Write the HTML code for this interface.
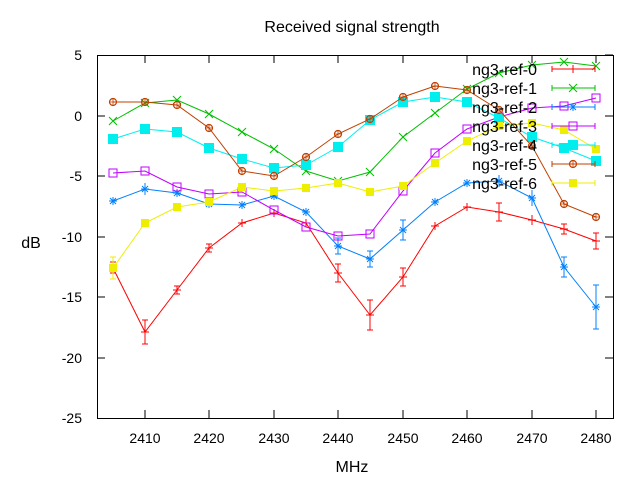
<!DOCTYPE html>
<html><head><style>body{margin:0;background:#fff}svg{display:block}text{font-family:"Liberation Sans",sans-serif;font-size:14px;fill:#000}.b{font-size:16px}</style></head><body>
<svg width="640" height="480" viewBox="0 0 640 480">
<defs>
<g id="mplus"><path d="M-4,0H4M0,-4V4" stroke-width="1"/></g>
<g id="mx"><path d="M-4,-4L4,4M-4,4L4,-4" stroke-width="1"/></g>
<g id="mstar"><path d="M-4,0H4M0,-4V4M-3,-3L3,3M-3,3L3,-3" stroke-width="1"/></g>
<g id="mosq"><rect x="-4" y="-4" width="8" height="8" fill="none" stroke-width="1"/></g>
<g id="mfsq"><rect x="-5" y="-5" width="10" height="10" stroke="none"/></g>
<g id="mcirc"><circle r="3.5" fill="none" stroke-width="1.2"/><path d="M-3.5,0H3.5M0,-3.5V3.5" stroke-width="0.8"/></g>
<g id="mfc"><rect x="-4" y="-4" width="8" height="8" stroke="none"/></g>
</defs>
<text class="b" x="352" y="32" text-anchor="middle">Received signal strength</text>
<text class="b" x="352" y="472" text-anchor="middle">MHz</text>
<text class="b" x="31" y="248" text-anchor="middle">dB</text>
<g text-anchor="end">
<text x="82" y="60">5</text><text x="82" y="121">0</text><text x="82" y="181">-5</text><text x="82" y="242">-10</text><text x="82" y="302">-15</text><text x="82" y="363">-20</text><text x="82" y="423">-25</text>
</g>
<g text-anchor="middle">
<text x="145" y="443">2410</text><text x="209" y="443">2420</text><text x="274" y="443">2430</text><text x="338" y="443">2440</text><text x="403" y="443">2450</text><text x="467" y="443">2460</text><text x="532" y="443">2470</text><text x="596" y="443">2480</text>
</g>
<g stroke="#000" stroke-width="1" fill="none">
<rect x="97.5" y="55.5" width="516" height="363"/>
<path d="M97,116h8M97,176h8M97,237h8M97,297h8M97,358h8M613,55h-8M613,116h-8M613,176h-8M613,237h-8M613,297h-8M613,358h-8"/>
<path d="M145,418v-8M209,418v-8M274,418v-8M338,418v-8M403,418v-8M467,418v-8M532,418v-8M596,418v-8M145,55v8M209,55v8M274,55v8M338,55v8M403,55v8M467,55v8M532,55v8M596,55v8"/>
</g>
<g stroke="#ff0000" fill="#ff0000">
<polyline fill="none" points="113,268 145,332 177,290 209,248 242,223 274,213 306,223 338,273 370,315 403,277 435,226 467,207 499,212 532,220 564,229 596,241"/>
<path d="M113,262v11M110,262h6M110,273h6M145,320v24M142,320h6M142,344h6M177,286v8M174,286h6M174,294h6M209,244v8M206,244h6M206,252h6M242,219v8M274,209v8M306,219v8M338,264v18M335,264h6M335,282h6M370,300v30M367,300h6M367,330h6M403,268v18M400,268h6M400,286h6M435,222v8M467,203v8M499,203v18M496,203h6M496,221h6M532,215v10M564,224v10M561,224h6M561,234h6M596,233v16M593,233h6M593,249h6" fill="none"/>
<use href="#mplus" x="113" y="268"/><use href="#mplus" x="145" y="332"/><use href="#mplus" x="177" y="290"/><use href="#mplus" x="209" y="248"/><use href="#mplus" x="242" y="223"/><use href="#mplus" x="274" y="213"/><use href="#mplus" x="306" y="223"/><use href="#mplus" x="338" y="273"/><use href="#mplus" x="370" y="315"/><use href="#mplus" x="403" y="277"/><use href="#mplus" x="435" y="226"/><use href="#mplus" x="467" y="207"/><use href="#mplus" x="499" y="212"/><use href="#mplus" x="532" y="220"/><use href="#mplus" x="564" y="229"/><use href="#mplus" x="596" y="241"/>
</g>
<g stroke="#00c000" fill="#00c000">
<polyline fill="none" points="113,121 145,103 177,100 209,114 242,132 274,149 306,171 338,181 370,172 403,137 435,113 467,89 499,73 532,65 564,62 596,66"/>
<use href="#mx" x="113" y="121"/><use href="#mx" x="145" y="103"/><use href="#mx" x="177" y="100"/><use href="#mx" x="209" y="114"/><use href="#mx" x="242" y="132"/><use href="#mx" x="274" y="149"/><use href="#mx" x="306" y="171"/><use href="#mx" x="338" y="181"/><use href="#mx" x="370" y="172"/><use href="#mx" x="403" y="137"/><use href="#mx" x="435" y="113"/><use href="#mx" x="467" y="89"/><use href="#mx" x="499" y="73"/><use href="#mx" x="532" y="65"/><use href="#mx" x="564" y="62"/><use href="#mx" x="596" y="66"/>
</g>
<g stroke="#0080ff" fill="#0080ff">
<polyline fill="none" points="113,201 145,189 177,193 209,204 242,205 274,196 306,212 338,246 370,259 403,230 435,202 467,183 499,181 532,198 564,267 596,307"/>
<path d="M145,183v12M338,238v16M335,238h6M335,254h6M370,251v16M367,251h6M367,267h6M403,220v20M400,220h6M400,240h6M564,257v20M561,257h6M561,277h6M596,285v44M593,285h6M593,329h6M532,190v16M499,175v12" fill="none"/>
<use href="#mstar" x="113" y="201"/><use href="#mstar" x="145" y="189"/><use href="#mstar" x="177" y="193"/><use href="#mstar" x="209" y="204"/><use href="#mstar" x="242" y="205"/><use href="#mstar" x="274" y="196"/><use href="#mstar" x="306" y="212"/><use href="#mstar" x="338" y="246"/><use href="#mstar" x="370" y="259"/><use href="#mstar" x="403" y="230"/><use href="#mstar" x="435" y="202"/><use href="#mstar" x="467" y="183"/><use href="#mstar" x="499" y="181"/><use href="#mstar" x="532" y="198"/><use href="#mstar" x="564" y="267"/><use href="#mstar" x="596" y="307"/>
</g>
<g stroke="#c000ff" fill="#c000ff">
<polyline fill="none" points="113,173 145,171 177,187 209,194 242,192 274,210 306,227 338,236 370,234 403,191 435,153 467,129 499,117 532,108 564,106 596,98"/>
<use href="#mosq" x="113" y="173"/><use href="#mosq" x="145" y="171"/><use href="#mosq" x="177" y="187"/><use href="#mosq" x="209" y="194"/><use href="#mosq" x="242" y="192"/><use href="#mosq" x="274" y="210"/><use href="#mosq" x="306" y="227"/><use href="#mosq" x="338" y="236"/><use href="#mosq" x="370" y="234"/><use href="#mosq" x="403" y="191"/><use href="#mosq" x="435" y="153"/><use href="#mosq" x="467" y="129"/><use href="#mosq" x="499" y="117"/><use href="#mosq" x="532" y="108"/><use href="#mosq" x="564" y="106"/><use href="#mosq" x="596" y="98"/>
</g>
<g stroke="#00eeee" fill="#00eeee">
<polyline fill="none" points="113,139 145,129 177,132 209,148 242,159 274,168 306,165 338,147 370,120 403,102 435,97 467,102 499,118 532,137 564,148 596,161"/>
<use href="#mfsq" x="113" y="139"/><use href="#mfsq" x="145" y="129"/><use href="#mfsq" x="177" y="132"/><use href="#mfsq" x="209" y="148"/><use href="#mfsq" x="242" y="159"/><use href="#mfsq" x="274" y="168"/><use href="#mfsq" x="306" y="165"/><use href="#mfsq" x="338" y="147"/><use href="#mfsq" x="370" y="120"/><use href="#mfsq" x="403" y="102"/><use href="#mfsq" x="435" y="97"/><use href="#mfsq" x="467" y="102"/><use href="#mfsq" x="499" y="118"/><use href="#mfsq" x="532" y="137"/><use href="#mfsq" x="564" y="148"/><use href="#mfsq" x="596" y="161"/>
</g>
<g stroke="#c04000" fill="#c04000">
<polyline fill="none" points="113,102 145,102 177,105 209,128 242,171 274,176 306,157 338,134 370,119 403,97 435,86 467,90 499,110 532,146 564,204 596,217"/>
<use href="#mcirc" x="113" y="102"/><use href="#mcirc" x="145" y="102"/><use href="#mcirc" x="177" y="105"/><use href="#mcirc" x="209" y="128"/><use href="#mcirc" x="242" y="171"/><use href="#mcirc" x="274" y="176"/><use href="#mcirc" x="306" y="157"/><use href="#mcirc" x="338" y="134"/><use href="#mcirc" x="370" y="119"/><use href="#mcirc" x="403" y="97"/><use href="#mcirc" x="435" y="86"/><use href="#mcirc" x="467" y="90"/><use href="#mcirc" x="499" y="110"/><use href="#mcirc" x="532" y="146"/><use href="#mcirc" x="564" y="204"/><use href="#mcirc" x="596" y="217"/>
</g>
<g stroke="#eeee00" fill="#eeee00">
<polyline fill="none" points="113,268 145,223 177,207 209,202 242,187 274,191 306,188 338,183 370,192 403,186 435,163 467,141 499,126 532,123 564,130 596,149"/>
<path d="M113,257v22M110,257h6M110,279h6" fill="none"/>
<use href="#mfc" x="113" y="268"/><use href="#mfc" x="145" y="223"/><use href="#mfc" x="177" y="207"/><use href="#mfc" x="209" y="202"/><use href="#mfc" x="242" y="187"/><use href="#mfc" x="274" y="191"/><use href="#mfc" x="306" y="188"/><use href="#mfc" x="338" y="183"/><use href="#mfc" x="370" y="192"/><use href="#mfc" x="403" y="186"/><use href="#mfc" x="435" y="163"/><use href="#mfc" x="467" y="141"/><use href="#mfc" x="499" y="126"/><use href="#mfc" x="532" y="123"/><use href="#mfc" x="564" y="130"/><use href="#mfc" x="596" y="149"/>
</g>
<g text-anchor="end" class="b">
<text class="b" x="537" y="75">ng3-ref-0</text><text class="b" x="537" y="94">ng3-ref-1</text><text class="b" x="537" y="113">ng3-ref-2</text><text class="b" x="537" y="132">ng3-ref-3</text><text class="b" x="537" y="151">ng3-ref-4</text><text class="b" x="537" y="170">ng3-ref-5</text><text class="b" x="537" y="189">ng3-ref-6</text>
</g>
<g fill="none">
<path d="M552,69h43M552,66v6M595,66v6" stroke="#ff0000"/><use href="#mplus" x="573" y="69" stroke="#ff0000"/>
<path d="M552,88h43M552,85v6M595,85v6" stroke="#00c000"/><use href="#mx" x="573" y="88" stroke="#00c000"/>
<path d="M552,107h43M552,104v6M595,104v6" stroke="#0080ff"/><use href="#mstar" x="573" y="107" stroke="#0080ff"/>
<path d="M552,126h43M552,123v6M595,123v6" stroke="#c000ff"/><use href="#mosq" x="573" y="126" stroke="#c000ff"/>
<path d="M552,145h43M552,142v6M595,142v6" stroke="#00eeee"/><use href="#mfsq" x="573" y="145" fill="#00eeee"/>
<path d="M552,164h43M552,161v6M595,161v6" stroke="#c04000"/><use href="#mcirc" x="573" y="164" stroke="#c04000"/>
<path d="M552,183h43M552,180v6M595,180v6" stroke="#eeee00"/><use href="#mfc" x="573" y="183" fill="#eeee00"/>
</g>
</svg>
</body></html>
